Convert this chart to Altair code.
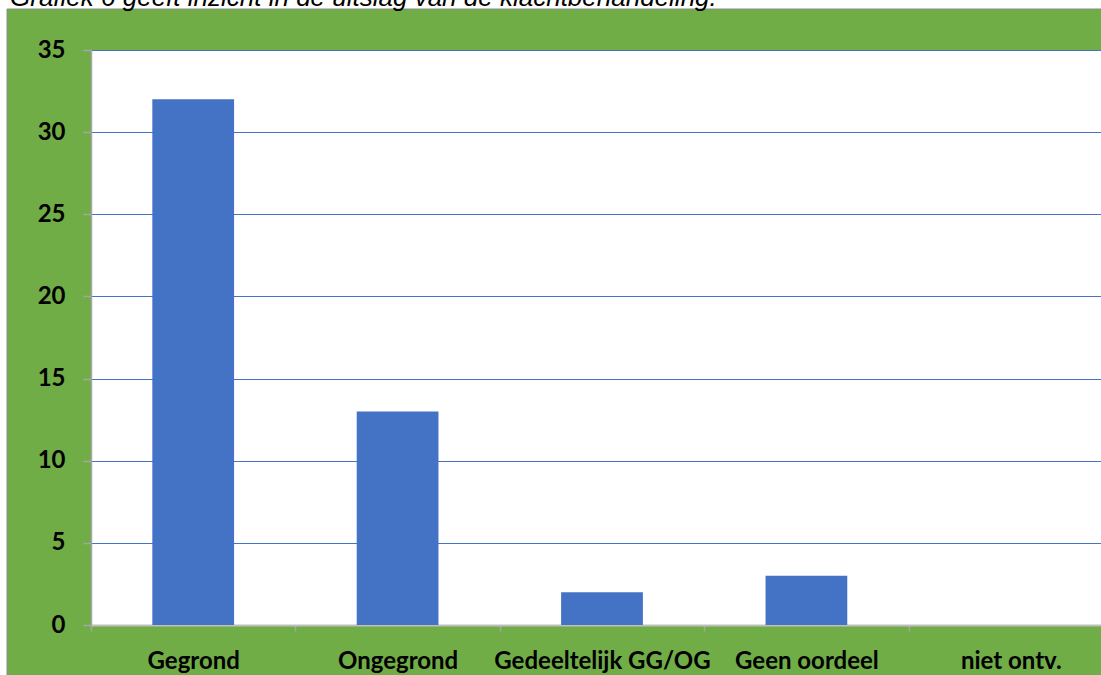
import altair as alt
import pandas as pd

# Uitslag van de klachtbehandeling
categories = ["Gegrond", "Ongegrond", "Gedeeltelijk GG/OG", "Geen oordeel", "niet ontv."]
counts = [32, 13, 2, 3, 0]
y_ticks = [0, 5, 10, 15, 20, 25, 30, 35]
caption = "Grafiek 6 geeft inzicht in de uitslag van de klachtbehandeling."

GREEN = "#70AD47"
BLUE = "#4472C4"
GREY = "#A6A6A6"
LABEL_FONT = "Lato"

df = pd.DataFrame({"categorie": categories, "aantal": counts})
one_row = alt.Data(values=[{}])

W, H = 1010, 575
STEP = 1022 / 5  # width of one category slot

bars = alt.Chart(df).mark_bar(color=BLUE).encode(
    x=alt.X(
        "categorie:N",
        sort=categories,
        title=None,
        scale=alt.Scale(range=[0, 1022], paddingInner=0.6, paddingOuter=0.3),
        axis=alt.Axis(
            labelAngle=0,
            labelFont=LABEL_FONT,
            labelFontSize=24,
            labelFontWeight="bold",
            labelColor="black",
            labelLimit=0,
            labelPadding=18,
            labelOffset=STEP / 2,
            tickOffset=-STEP / 2,
            tickSize=6,
            tickColor=GREY,
            tickWidth=1.5,
            domainColor="#BFBFBF",
            domainWidth=2,
            grid=False,
        ),
    ),
    y=alt.Y(
        "aantal:Q",
        title=None,
        scale=alt.Scale(domain=[0, 35], nice=False),
        axis=alt.Axis(
            values=y_ticks,
            labelFont=LABEL_FONT,
            labelFontSize=24,
            labelFontWeight="bold",
            labelColor="black",
            labelPadding=18,
            tickSize=8,
            tickColor=GREY,
            tickWidth=1.5,
            domainColor=GREY,
            domainWidth=1.5,
            grid=True,
            gridColor=BLUE,
            gridWidth=1,
        ),
    ),
)

# white page strips around the green chart area, with its grey outline
top_strip = alt.Chart(one_row).mark_rect(fill="white").encode(
    x=alt.value(-100), x2=alt.value(1100), y=alt.value(-60), y2=alt.value(-41)
)
left_strip = alt.Chart(one_row).mark_rect(fill="white").encode(
    x=alt.value(-100), x2=alt.value(-84), y=alt.value(-60), y2=alt.value(700)
)
frame = alt.Chart(one_row).mark_rect(fill=None, stroke="#8C8C8C", strokeWidth=1).encode(
    x=alt.value(-84), x2=alt.value(1200), y=alt.value(-41), y2=alt.value(800)
)
caption_text = alt.Chart(one_row).mark_text(
    font="Liberation Sans",
    fontStyle="italic",
    fontSize=26,
    color="black",
    align="left",
    baseline="alphabetic",
).encode(x=alt.value(-81), y=alt.value(-44), text=alt.value(caption))

chart = (
    alt.layer(top_strip, left_strip, frame, caption_text, bars)
    .properties(
        width=W,
        height=H,
        background=GREEN,
        padding={"left": 91, "top": 50, "right": 0, "bottom": 50},
        autosize=alt.AutoSizeParams(type="none"),
    )
    .configure_view(fill="white", stroke=None)
)

chart.save("out.html", embed_options={"renderer": "svg", "actions": False})
